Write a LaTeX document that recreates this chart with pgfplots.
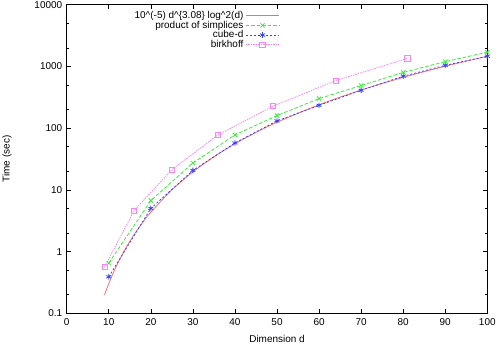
\documentclass[border=0pt]{standalone}
\usepackage{fontspec}
\setmainfont{Liberation Sans}
\usepackage{pgfplots}
\pgfplotsset{compat=1.18}
\usetikzlibrary{calc}
\definecolor{gred}{HTML}{FF6A6A}
\definecolor{ggreen}{HTML}{33EE33}
\definecolor{gblue}{HTML}{3344FF}
\definecolor{gpink}{HTML}{FF80FF}
\begin{document}
\begin{tikzpicture}
\begin{axis}[
  scale only axis,
  width=420.6bp, height=308.6bp,
  xmin=0, xmax=100, ymin=0.1, ymax=10000,
  ymode=log,
  xtick={0,10,...,100},
  ytick={0.1,1,10,100,1000,10000},
  yticklabels={0.1,1,10,100,1000,10000},
  minor ytick={0.2,0.5,2,5,20,50,200,500,2000,5000},
  tick align=inside,
  major tick length=4bp, minor tick length=2.5bp,
  every tick/.style={black, line width=0.6bp},
  axis line style={black, line width=0.8bp},
  /pgf/number format/assume math mode=true,
  tick label style={font=\fontsize{10}{11}\selectfont},
  xticklabel style={yshift=-2bp},
  yticklabel style={xshift=-1bp},
  label style={font=\fontsize{10}{11}\selectfont},
  xlabel={Dimension d},
  ylabel={Time (sec)},
  xlabel style={yshift=-3bp},
  ylabel style={yshift=16bp},
  legend style={draw=none, fill=none, at={(0.509,0.989)}, anchor=north east,
    font=\fontsize{10}{11}\selectfont, row sep=-3bp, inner sep=1bp},
  legend cell align=right,
  legend plot pos=right,
  legend image code/.code={\draw[mark repeat=2,mark phase=2] plot coordinates {(0bp,0bp) (16.7bp,0bp) (33.4bp,0bp)};},
]
\addplot[gred, line width=0.8bp, smooth, no marks] coordinates {
(9,0.200)(10,0.303)(11,0.4415)(12,0.620)(14,1.124)(16,1.872)(18,2.924)(20,4.35)(25,9.97)(30,19.54)(35,34.3)(40,55.7)(45,85.3)(50,124.6)(60,239.3)(70,414.3)(80,664.7)(90,1007)(100,1459)};
\addlegendentry{10\^{}(-5) d\^{}\{3.08\} log\^{}2(d)}
\addplot[ggreen, line width=0.8bp, dash pattern=on 3.5bp off 2bp, mark=x, mark size=3bp, mark options={solid}] coordinates {
(10,0.65)(20,6.7)(30,27.2)(40,77.6)(50,160)(60,301)(70,490)(80,800)(90,1195)(100,1700)};
\addlegendentry{product of simplices}
\addplot[gblue, line width=0.8bp, dash pattern=on 2bp off 2bp, mark=asterisk, mark size=2.8bp, mark options={solid}] coordinates {
(10,0.39)(20,5.0)(30,20.6)(40,57.5)(50,131)(60,234)(70,411)(80,693)(90,1040)(100,1465)};
\addlegendentry{cube-d}
\addplot[gpink, line width=0.8bp, dash pattern=on 1.5bp off 1bp, mark=square, mark size=2.6bp, mark options={solid}] coordinates {
(9,0.56)(16,4.58)(25,21.2)(36,78)(49,226)(64,590)(81,1350)};
\addlegendentry{birkhoff}
\end{axis}
\pgfresetboundingbox
\path ($(current axis.south west)+(-66.7bp,-32.7bp)$) rectangle ($(current axis.north east)+(10.7bp,4.7bp)$);
\end{tikzpicture}
\end{document}
